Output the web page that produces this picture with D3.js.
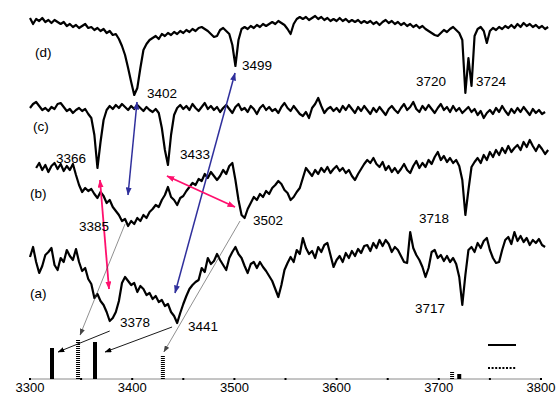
<!DOCTYPE html>
<html><head><meta charset="utf-8">
<script src="https://cdn.jsdelivr.net/npm/d3@7"></script>
<style>
body{margin:0;background:#fff}
svg{display:block}
text{font-family:Arial,"Liberation Sans",sans-serif;fill:#000}
</style>
</head><body>
<svg id="chart" width="557" height="394"></svg>
<script>
// ---------- data ----------
const wnStep = 3;                       // cm-1 between samples
const traceNames  = ["(a)", "(b)", "(c)", "(d)"];
const traceStart  = [3300, 3306, 3300, 3300];   // first wavenumber of each trace
const traceOffset = [119, 212, 271, 359];       // vertical stacking offset (a.u.)

// absorption depth (a.u., positive = dip) sampled every 3 cm-1
const absA = [-3,-13,2,13,6,-5,-8,-12,5,10, -2,2,-10,-4,0,-11,2,11,8,19,
  24,38,34,41,45,52,61,58,52,41, 23,17,21,25,23,32,26,29,35,33,
  39,36,42,40,46,44,52,56,63,53, 44,36,29,25,22,20,8,12,-2,4,
  1,-6,0,5,10,-2,-8,-13,-6,-2, 6,13,4,2,8,2,7,11,16,21,
  29,37,25,10,3,-3,2,-10,-6,-22, -12,-6,-9,-2,-13,-8,-15,-17,-5,7,
  0,-4,2,-7,-2,-9,-4,-11,-7,-14, -15,-9,-17,-12,-20,-14,-20,-16,-8,-13,
  -10,-4,2,3,-28,-12,-5,0,7,17, 8,-8,-10,-2,-5,1,-4,2,-2,4,
  17,45,15,-10,-13,-8,-17,-12,-19,-22, -10,-2,3,2,-10,-20,-23,-16,-28,-19,
  -24,-18,-22,-15,-20,-17,-21,-15,-13];
const absB = [1,-4,3,-2,5,-1,-4,2,-3,4, -1,3,-3,8,18,25,21,24,22,27,
  31,25,29,36,33,40,44,48,54,52, 59,54,57,51,54,48,51,45,42,38,
  40,33,28,20,30,33,38,31,29,24, 20,16,18,12,14,7,11,5,9,13,
  9,3,7,-1,-4,13,33,48,51,42, 36,30,33,27,30,24,27,21,18,14,
  17,23,26,33,30,25,21,11,1,5, 9,3,7,1,5,0,6,2,-1,4,
  1,6,3,9,13,7,2,-3,-7,-4, -9,-3,0,-5,3,-1,5,1,6,2,
  -3,3,6,-1,-6,1,-4,0,-7,-3, -10,-15,-7,-11,-5,-9,-4,-7,-1,13,
  48,23,0,-5,-9,-4,-12,-7,-15,-10, -17,-12,-19,-14,-21,-15,-19,-22,-17,-25,
  -20,-27,-21,-16,-22,-18,-13,-17];
const absC = [0,-4,-6,-2,2,0,3,-1,1,-4, -5,-1,3,1,5,2,0,3,1,6,
  10,27,60,34,12,2,-2,1,-3,0, -4,-1,2,-2,1,-3,0,3,-1,2,
  4,1,5,20,42,57,27,7,0,-3, 1,-2,2,-4,0,3,-1,-5,1,-2,
  2,-1,4,0,-3,1,5,-1,-4,2, 0,4,-2,1,6,0,-3,2,-1,3,
  1,5,-1,-5,0,3,-2,2,6,8, 4,10,0,-4,-10,-2,5,1,-1,3,
  0,4,-2,2,-3,1,5,-1,3,-2, 2,6,0,4,-1,3,7,1,-2,2,
  5,0,-4,2,-1,-6,1,4,-2,2, -3,1,5,0,-4,2,-1,4,-2,3,
  0,5,2,-1,4,1,7,3,10,5, 2,6,0,4,-2,3,7,1,5,0,
  4,-1,3,7,1,5,2,6,4];
const absD = [-2,4,-1,1,-2,2,0,3,0,2, 4,2,6,4,7,5,8,6,4,8,
  7,10,8,11,9,13,11,15,14,19, 26,35,48,62,75,68,48,30,24,20,
  18,16,19,14,16,13,15,12,14,11, 13,10,12,9,11,8,7,9,11,14,
  17,16,10,8,11,14,25,46,20,9, 7,9,6,8,5,7,4,6,4,2,
  4,1,3,5,9,14,4,-1,-3,-1, -3,0,-2,-4,-1,-3,0,-2,1,-1,
  1,-2,1,-1,2,0,2,0,3,1, 3,1,4,2,5,2,0,3,1,4,
  2,5,3,6,4,7,5,8,6,9, 11,13,15,16,13,10,12,9,7,10,
  13,20,73,38,66,16,9,7,11,23, 11,8,10,7,9,6,8,5,8,4,
  7,3,6,4,7,5,8,6,9,7];
const traceValues = [absA, absB, absC, absD];

// calculated stick spectrum
const stickWn   = [3321.5, 3347, 3363.6, 3430, 3713, 3720];
const stickInt  = [31, 40, 37, 24, 7, 5];
const stickType = ["solid", "dashed", "solid", "dashed", "dashed", "solid"];

// x-axis ticks
const tickLabels = [3300, 3400, 3500, 3600, 3700, 3800];
const minorTicks = [3300, 3350, 3400, 3450, 3500, 3550, 3600, 3650, 3700, 3750, 3800];

// peak labels [wavenumber position, height a.u.]
const peakText = ["3402", "3499", "3366", "3433", "3385", "3502", "3378", "3441", "3720", "3724", "3718", "3717"];
const peakWn   = [3414.5, 3507.4, 3325.4, 3446.8, 3348, 3518.2, 3388, 3454.6, 3677.7, 3736.4, 3680.6, 3676.7];
const peakY    = [286, 314, 221, 225, 153, 159, 57, 53, 298, 298, 161, 71];
const nameWn   = [3300, 3300, 3302.9, 3304.9];
const nameY    = [86, 186, 253, 327];

// correlation arrows
const arrowFrom = [[3404.7, 277], [3500.6, 306], [3368.5, 199], [3434, 203], [3393, 155], [3505.5, 158], [3378, 48], [3439, 52]];
const arrowTo   = [[3395.9, 184], [3441.9, 86], [3377.3, 90], [3500.6, 172], [3349, 44], [3431, 27], [3327.4, 27], [3373.4, 27]];
const arrowKind = ["blue", "blue", "mag", "mag", "thin", "thin", "black", "black"];

// ---------- drawing ----------
const svg = d3.select("#chart");
const x = d3.scaleLinear().domain([3300, 3800]).range([30, 541]);
const y = d3.scaleLinear().domain([0, 379]).range([379, 0]);

const styles = {
  blue:  {color: "#2f2f9c", width: 1.5},
  mag:   {color: "#ff106e", width: 1.8},
  thin:  {color: "#444", width: 0.6},
  black: {color: "#000", width: 0.9}
};
const defs = svg.append("defs");
Object.entries(styles).forEach(([k, s]) => {
  defs.append("marker").attr("id", "ah-" + k)
    .attr("viewBox", "0 0 8 6").attr("refX", 7.5).attr("refY", 3)
    .attr("markerUnits", "userSpaceOnUse")
    .attr("markerWidth", k === "thin" || k === "black" ? 7 : 8)
    .attr("markerHeight", k === "thin" || k === "black" ? 5 : 6)
    .attr("orient", "auto-start-reverse")
    .append("path").attr("d", "M0,0 L8,3 L0,6 Z").attr("fill", s.color);
});

// axis
const axisG = svg.append("g").attr("transform", `translate(0,${y(0)})`);
axisG.append("line").attr("x1", x(3300)).attr("x2", x(3800))
  .attr("stroke", "#8a8a8a").attr("stroke-width", 1);
axisG.selectAll("rect.tk").data(minorTicks).join("rect")
  .attr("x", d => x(d) - 1).attr("y", -1).attr("width", 2).attr("height", 2).attr("fill", "#000");
axisG.selectAll("text").data(tickLabels).join("text")
  .attr("x", d => x(d)).attr("y", 13).attr("text-anchor", "middle")
  .attr("font-size", "13px").text(d => d);

// stick spectrum
svg.append("g").selectAll("line").data(stickWn).join("line")
  .attr("x1", d => x(d)).attr("x2", d => x(d))
  .attr("y1", y(0)).attr("y2", (d, i) => y(stickInt[i]))
  .attr("stroke", "#000").attr("stroke-width", 4)
  .attr("stroke-dasharray", (d, i) => stickType[i] === "dashed" ? "1,1" : null);

// traces
const line = (ti) => d3.line()
  .x((v, i) => x(traceStart[ti] + i * wnStep))
  .y(v => y(traceOffset[ti] - v));
svg.append("g").selectAll("path").data(traceValues).join("path")
  .attr("d", (vals, ti) => line(ti)(vals))
  .attr("fill", "none").attr("stroke", "#000").attr("stroke-width", 2.2)
  .attr("stroke-linejoin", "round");

// arrows
svg.append("g").selectAll("line").data(arrowFrom).join("line")
  .attr("x1", d => x(d[0])).attr("y1", d => y(d[1]))
  .attr("x2", (d, i) => x(arrowTo[i][0])).attr("y2", (d, i) => y(arrowTo[i][1]))
  .attr("stroke", (d, i) => styles[arrowKind[i]].color)
  .attr("stroke-width", (d, i) => styles[arrowKind[i]].width)
  .attr("marker-end", (d, i) => `url(#ah-${arrowKind[i]})`)
  .attr("marker-start", (d, i) => (arrowKind[i] === "blue" || arrowKind[i] === "mag") ? `url(#ah-${arrowKind[i]})` : null);

// peak labels
svg.append("g").selectAll("text").data(peakText).join("text")
  .attr("x", (d, i) => x(peakWn[i])).attr("y", (d, i) => y(peakY[i]))
  .attr("dy", "0.36em").attr("font-size", "13.5px").text(d => d);

// trace names
svg.append("g").selectAll("text").data(traceNames).join("text")
  .attr("x", (d, i) => x(nameWn[i])).attr("y", (d, i) => y(nameY[i]))
  .attr("dy", "0.36em").attr("font-size", "13.5px").text(d => d);

// legend
const lg = svg.append("g");
lg.append("line").attr("x1", 488).attr("x2", 516).attr("y1", 345).attr("y2", 345)
  .attr("stroke", "#000").attr("stroke-width", 2);
lg.append("line").attr("x1", 488).attr("x2", 516).attr("y1", 368).attr("y2", 368)
  .attr("stroke", "#000").attr("stroke-width", 2).attr("stroke-dasharray", "2,1.6");
</script>
</body></html>
